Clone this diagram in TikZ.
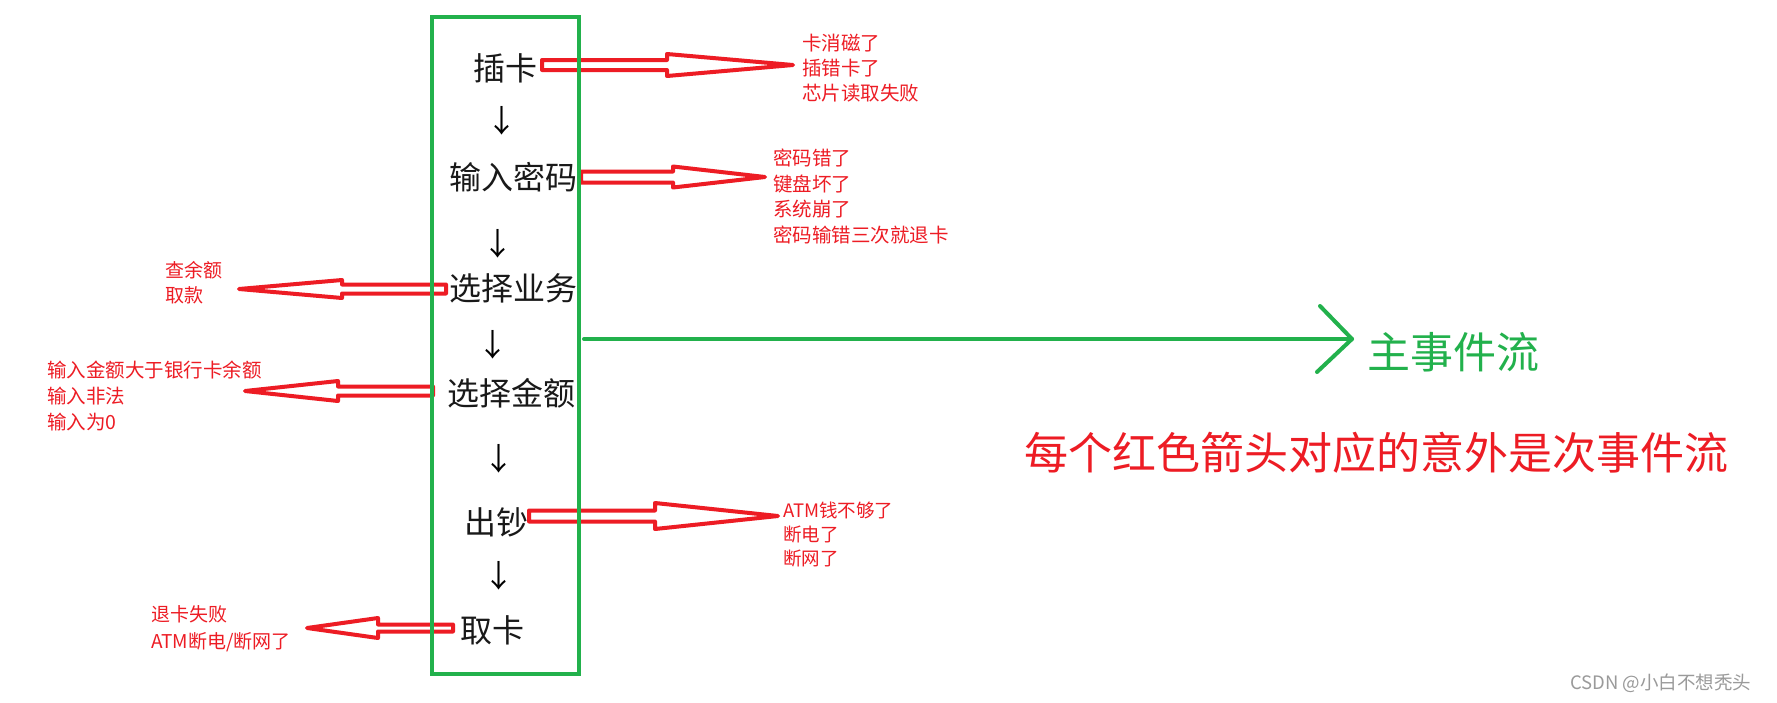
\documentclass[tikz,border=0pt]{standalone}
\usepackage{fontspec}
\newfontfamily\cjk{Noto Sans CJK SC}
\definecolor{pred}{HTML}{ED1C24}
\definecolor{pgreen}{HTML}{22B14C}
\definecolor{wgray}{HTML}{9A9A9A}
\tikzset{
  stepnode/.style={font=\cjk\fontsize{32}{36}\selectfont, text=black!90, inner sep=0pt},
  downnode/.style={font=\cjk\fontsize{31}{36}\selectfont, text=black, inner sep=0pt},
  note/.style={font=\cjk\fontsize{19}{25}\selectfont, text=pred, align=left, inner sep=0pt, anchor=west},
  hollow/.style={draw=pred, line width=4pt, line join=round},
  gline/.style={draw=pgreen, line width=4pt, line cap=round, line join=round}
}
\newcommand\hollowarr[6]{%
  \draw[hollow] ({#1},{#4-#5}) -- ({#2},{#4-#5}) -- ({#2},{#4-#6}) -- ({#3},{#4})
    -- ({#2},{#4+#6}) -- ({#2},{#4+#5}) -- ({#1},{#4+#5}) -- cycle;}
\begin{document}
\begin{tikzpicture}[x=1pt,y=-1pt]
\useasboundingbox[fill=white] (0,0) rectangle (1777,702);
% steps
\node[stepnode] (n1) at (505.5,68) {插卡};
\node[stepnode] (n2) at (513.5,177) {输入密码};
\node[stepnode] (n3) at (513,288) {选择业务};
\node[stepnode] (n4) at (511,393) {选择金额};
\node[stepnode] (n5) at (496.5,522) {出钞};
\node[stepnode] (n6) at (492.5,630) {取卡};
% down arrows
\node[downnode] (a1) at (502,121) {↓};
\node[downnode] (a2) at (498,244) {↓};
\node[downnode] (a3) at (493,345) {↓};
\node[downnode] (a4) at (499,459) {↓};
\node[downnode] (a5) at (499,576) {↓};
% red hollow arrows
\hollowarr{542}{667}{793}{65}{5}{11}
\hollowarr{581}{673}{765}{177}{5.5}{10.5}
\hollowarr{446}{342}{239}{289}{4.5}{9}
\hollowarr{433}{338}{245}{391}{4.5}{10}
\hollowarr{529}{655}{778}{516}{5.5}{13}
\hollowarr{453}{378}{307}{628}{3.5}{10}
% notes
\node[note, font=\cjk\fontsize{19.5}{25}\selectfont] (t1) at (802,68) {卡消磁了\\插错卡了\\芯片读取失败};
\node[note, font=\cjk\fontsize{19.5}{25.7}\selectfont] (t2) at (773,196.5) {密码错了\\键盘坏了\\系统崩了\\密码输错三次就退卡};
\node[note] (t3) at (165,282.5) {查余额\\取款};
\node[note, font=\cjk\fontsize{19.5}{26}\selectfont] (t4) at (47,396) {输入金额大于银行卡余额\\输入非法\\输入为0};
\node[note, font=\cjk\fontsize{18.5}{24}\selectfont] (t5) at (783,534) {ATM钱不够了\\断电了\\断网了};
\node[note, font=\cjk\fontsize{19}{27}\selectfont] (t6) at (151,628.5) {退卡失败\\ATM断电/断网了};
% green box
\node[draw=pgreen, line width=4pt, minimum width=146.5pt, minimum height=657pt, inner sep=0pt] (box) at (505.25,345.5) {};
% main flow
\coordinate (mstart) at (584,339);
\coordinate (mtip) at (1352,339);
\coordinate (mup) at (1320,306);
\coordinate (mdown) at (1317,372);
\draw[gline] (mstart) -- (mtip);
\draw[gline] (mup) -- (mtip) -- (mdown);
\node[font=\cjk\fontsize{43}{48}\selectfont, text=pgreen, anchor=west, inner sep=0pt] (main) at (1367,352) {主事件流};
\node[font=\cjk\fontsize{44}{50}\selectfont, text=pred, anchor=west, inner sep=0pt] (alt) at (1024,453) {每个红色箭头对应的意外是次事件流};
\node[font=\cjk\fontsize{18.5}{22}\selectfont, text=wgray, anchor=west, inner sep=0pt] (wm) at (1570,683) {CSDN @小白不想秃头};
\end{tikzpicture}
\end{document}
